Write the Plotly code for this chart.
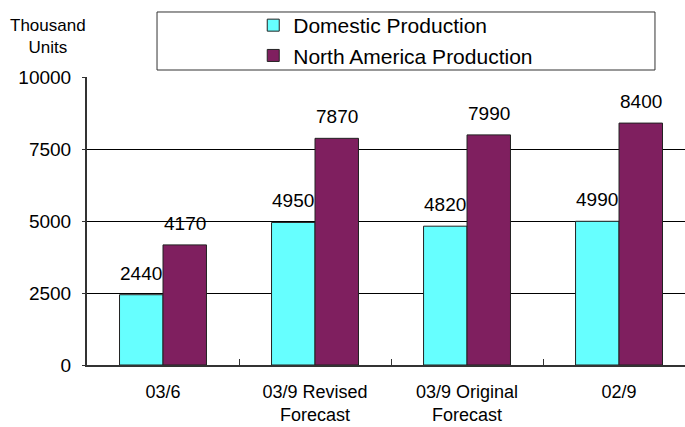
import plotly.graph_objects as go

categories = ["03/6", "03/9 Revised<br>Forecast", "03/9 Original<br>Forecast", "02/9"]
domestic = [2440, 4950, 4820, 4990]
north_america = [4170, 7870, 7990, 8400]
series_names = ["Domestic Production", "North America Production"]
y_ticks = [0, 2500, 5000, 7500, 10000]
y_tick_labels = ["0", "2500", "5000", "7500", "10000"]

FONT = "Liberation Sans, Arial, sans-serif"
colors = ["#66FFFF", "#7F1F5F"]

fig = go.Figure()
for name, vals, col in zip(series_names, [domestic, north_america], colors):
    fig.add_trace(go.Bar(
        name=name, x=categories, y=vals,
        marker=dict(color=col, line=dict(color="#222222", width=1)),
    ))

# data labels
for k, vals in enumerate([domestic, north_america]):
    for cat, v in zip(categories, vals):
        fig.add_annotation(
            x=cat, y=v, xref="x", yref="y", text=str(v), showarrow=False,
            xshift=(-22 if k == 0 else 22), yshift=9, yanchor="bottom",
            font=dict(family=FONT, size=19, color="black"),
        )

# y-axis title
fig.add_annotation(xref="paper", yref="paper", x=-0.065, y=1.139,
                   xanchor="center", yanchor="middle", text="Thousand<br>Units",
                   showarrow=False, font=dict(family=FONT, size=17, color="black"))

# legend box
fig.add_shape(type="rect", xref="paper", yref="paper",
              x0=0.1171, x1=0.9498, y0=1.0243, y1=1.2257,
              line=dict(color="#333333", width=1), fillcolor="white", layer="below")

fig.update_layout(
    width=685, height=427,
    margin=dict(l=87, r=0, t=77, b=62, autoexpand=False),
    paper_bgcolor="white", plot_bgcolor="white",
    barmode="group", bargap=0.428, bargroupgap=0,
    font=dict(family=FONT, size=18, color="black"),
    showlegend=True,
    legend=dict(x=0.278, y=1.25, xanchor="left", yanchor="top",
                bgcolor="rgba(0,0,0,0)", borderwidth=0,
                font=dict(family=FONT, size=21, color="black"),
                tracegroupgap=0, itemwidth=30),
    xaxis=dict(range=[-0.5, 3.434], showline=True, linecolor="#333333", linewidth=2,
               ticks="inside", ticklen=6, tickcolor="#333333", tickson="boundaries",
               tickfont=dict(family=FONT, size=18), showgrid=False,
               ticklabelstandoff=9, automargin=False),
    yaxis=dict(range=[0, 10000], tickvals=y_ticks, ticktext=y_tick_labels,
               showline=True, linecolor="#333333",
               linewidth=2, ticks="outside", ticklen=3, tickcolor="#333333",
               showgrid=True, gridcolor="black", gridwidth=1, zeroline=False,
               tickfont=dict(family=FONT, size=19), ticklabelstandoff=7,
               automargin=False),
)

fig.write_html("out.html")
